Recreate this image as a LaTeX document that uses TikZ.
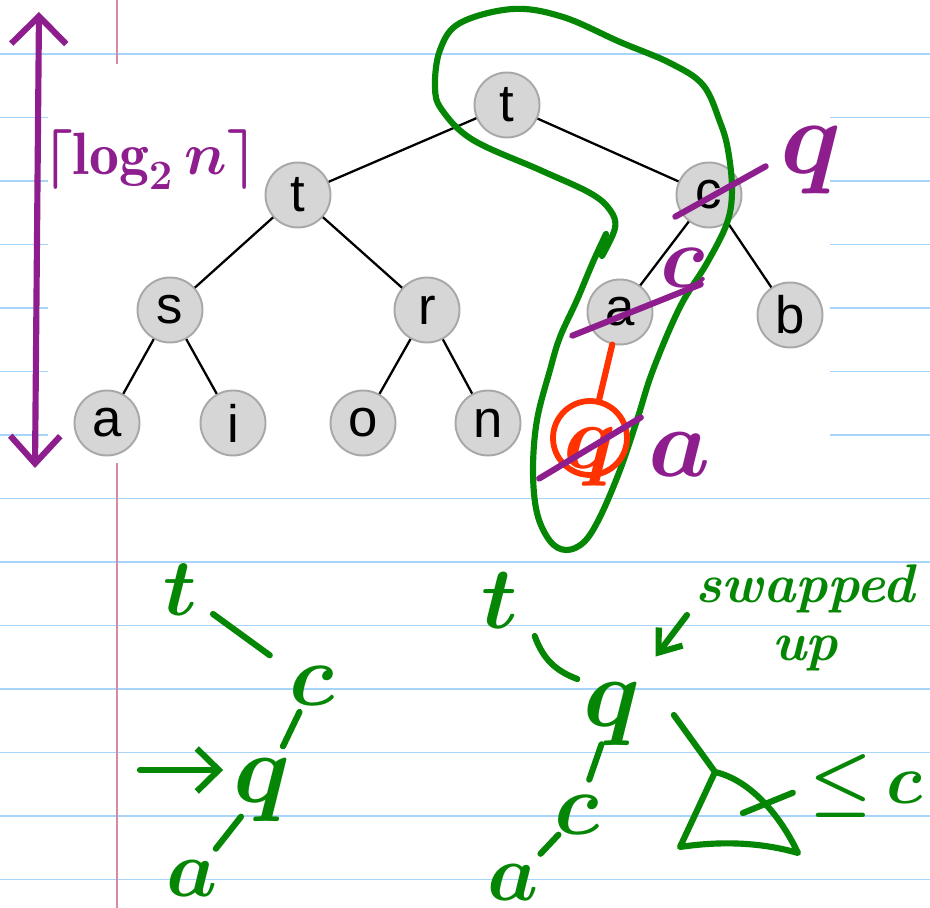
\RequirePackage{fix-cm}
\documentclass[tikz,border=0pt]{standalone}
\usepackage{fontspec}
\newfontfamily\treefont{Liberation Sans}
\usetikzlibrary{arrows.meta,calc}

\definecolor{ruleblue}{RGB}{168,212,250}
\definecolor{marginpink}{RGB}{214,140,160}
\definecolor{keyfill}{RGB}{214,214,214}
\definecolor{keyline}{RGB}{168,168,168}
\definecolor{inkpurple}{RGB}{142,30,142}
\definecolor{inkgreen}{RGB}{5,135,5}
\definecolor{inkred}{RGB}{255,50,0}

\begin{document}
\begin{tikzpicture}[
  x=0.02cm, y=-0.02cm,
  keynode/.style={circle,draw=keyline,fill=keyfill,line width=1.1pt,minimum size=1.3cm,inner sep=0pt,font=\treefont\fontsize{30}{30}\selectfont},
  tline/.style={line width=1.3pt},
  ruled/.style={ruleblue,line width=1.1pt},
  pen/.style={line width=3.5pt,line cap=round,line join=round},
  note/.style={inner sep=0pt,font=\fontsize{#1}{#1}\selectfont\boldmath}
]
\fill[white] (0,0) rectangle (930,908);
\useasboundingbox (0,0) rectangle (930,908);

% notebook paper
\foreach \k in {0,7,8,...,13}
  \draw[ruled] (0,{54+63.5*\k}) -- (930,{54+63.5*\k});
\foreach \k in {1,...,6} {
  \draw[ruled] (0,{54+63.5*\k}) -- (48,{54+63.5*\k});
  \draw[ruled] (830,{54+63.5*\k}) -- (930,{54+63.5*\k});
}
\draw[marginpink,line width=1.1pt] (117,0) -- (117,64);
\draw[marginpink,line width=1.1pt] (117,463) -- (117,908);

% the heap
\node[keynode] (root) at (507,105) {t};
\node[keynode] (t) at (298,195) {t};
\node[keynode] (c) at (709,195) {c};
\node[keynode] (s) at (170,310) {s};
\node[keynode] (r) at (427,310) {r};
\node[keynode] (ca) at (620,312) {a};
\node[keynode] (b) at (790,315) {b};
\node[keynode] (a) at (107,423) {a};
\node[keynode] (i) at (233,423) {i};
\node[keynode] (o) at (363,423) {o};
\node[keynode] (n) at (488,423) {n};
\draw[tline] (root) -- (t);
\draw[tline] (root) -- (c);
\draw[tline] (t) -- (s);
\draw[tline] (t) -- (r);
\draw[tline] (c) -- (ca);
\draw[tline] (c) -- (b);
\draw[tline] (s) -- (a);
\draw[tline] (s) -- (i);
\draw[tline] (r) -- (o);
\draw[tline] (r) -- (n);

% height
\coordinate (hTop) at (39,12);
\coordinate (hBot) at (35,468);
\draw[pen,inkpurple,{Straight Barb[length=0.55cm,width=1.1cm]}-{Straight Barb[length=0.55cm,width=1.0cm]}] (hTop) -- (hBot);
\node[note=34,text=inkpurple] (height) at (150,160) {$\bigl\lceil\log_2 n\bigr\rceil$};

% path from the root
\draw[pen,inkgreen] plot[smooth,tension=0.6] coordinates {
  (606,234) (593,262) (577,300) (560,337) (550,370) (537,420) (533,470)
  (537,513) (550,541) (566,550) (584,542) (600,517) (620,470) (637,420)
  (653,370) (680,307) (707,263) (727,223) (732,190) (728,150) (720,122)
  (703,85) (670,63) (620,42) (563,17) (513,9) (460,23) (440,50) (435,87)
  (442,110) (473,140) (540,170) (590,193) (610,210) (615,228) (602,256)};

% inserted key
\node[circle,draw=inkred,line width=3.3pt,minimum size=1.48cm,inner sep=0pt] (ring) at (590,438) {};
\node[note=52,text=inkred] (qnew) at (590,457) {$q$};
\draw[pen,inkred] (ca) -- (ring);

% swaps
\draw[pen,inkpurple] ($(c.south west)+(-10,-2)$) -- ($(c.north east)+(33,-5)$);
\node[note=60,text=inkpurple] (qtop) at (811,160) {$q$};
\draw[pen,inkpurple] ($(ca.south west)+(-24,0)$) -- ($(ca.north east)+(57,-4)$);
\node[note=50,text=inkpurple] (cmid) at (683,268) {$c$};
\draw[pen,inkpurple] ($(qnew.south west)+(-24,-8)$) -- ($(qnew.north east)+(24,-10)$);
\node[note=56,text=inkpurple] (anew) at (680,455) {$a$};

% before
\node[note=46,text=inkgreen] (lt) at (180,590) {$t$};
\node[note=50,text=inkgreen] (lc) at (312,686) {$c$};
\node[note=56,text=inkgreen] (lq) at (262,790) {$q$};
\node[note=46,text=inkgreen] (la) at (192,879) {$a$};
\draw[pen,inkgreen] ($(lt)!0.25!(lc)$) -- ($(lt)!0.68!(lc)$);
\draw[pen,inkgreen] ($(lc)!0.25!(lq)$) -- ($(lc)!0.58!(lq)$);
\draw[pen,inkgreen] ($(lq)!0.3!(la)$) -- ($(lq)!0.66!(la)$);
\coordinate (lin) at (140,770);
\draw[pen,inkgreen,-{Straight Barb[length=0.44cm,width=0.86cm]},shorten >=0.2cm] (lin) -- (lin -| lq.west);

% after
\node[note=50,text=inkgreen] (rt) at (500,601) {$t$};
\node[note=56,text=inkgreen] (rq) at (612,714) {$q$};
\node[note=50,text=inkgreen] (rc) at (577,815) {$c$};
\node[note=46,text=inkgreen] (ra) at (513,883) {$a$};
\draw[pen,inkgreen] ($(rt)!0.31!(rq)$) to[bend right=25] ($(rt)!0.69!(rq)$);
\draw[pen,inkgreen] ($(rq)!0.3!(rc)$) -- ($(rq)!0.65!(rc)$);
\draw[pen,inkgreen] ($(rc)!0.29!(ra)$) -- ($(rc)!0.57!(ra)$);
\node[note=31,align=center,text=inkgreen,font=\fontsize{31}{33}\selectfont\itshape\bfseries] (swap) at (805,618) {swapped\\up};
\coordinate (swapTail) at (687,615);
\draw[pen,inkgreen,-{Straight Barb[length=0.4cm,width=0.6cm]}] (swapTail) -- ($(swapTail)!0.42!(rq)$);

% subtree
\coordinate (triTop) at (715,772);
\coordinate (triLeft) at (680,847);
\coordinate (triRight) at (798,853);
\draw[pen,inkgreen] ($(rq.east)+(33,1)$) -- (triTop);
\draw[pen,inkgreen] (triTop) .. controls (750,780) and (780,815) .. (triRight)
  .. controls (760,842) and (720,841) .. (triLeft) -- cycle;
\node[note=40,text=inkgreen] (bound) at (866,786) {${\leq}\,c$};
\coordinate (triIn) at (743,813);
\draw[pen,inkgreen,shorten >=0.36cm] (triIn) -- (bound.west);
\end{tikzpicture}
\end{document}
